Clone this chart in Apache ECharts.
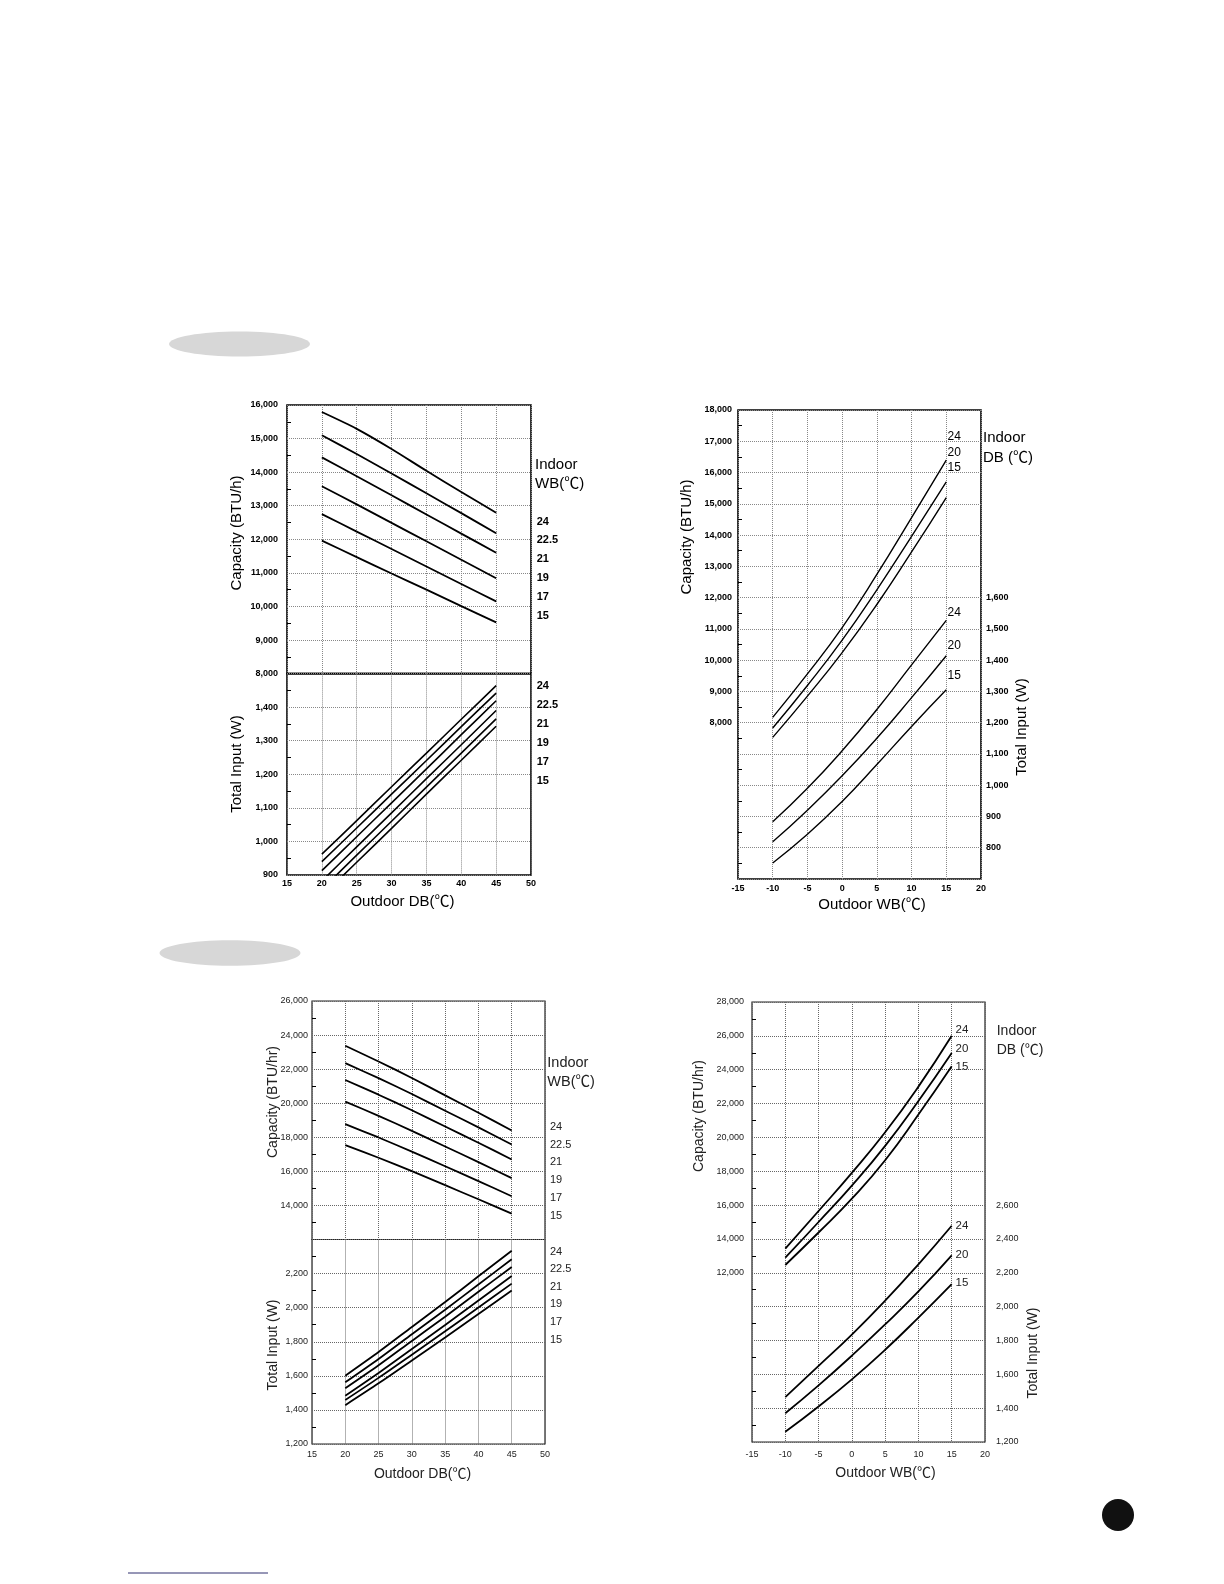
<!DOCTYPE html>
<html>
<head>
<meta charset="utf-8">
<title>Capacity and Total Input curves</title>
<script src="https://cdn.jsdelivr.net/npm/echarts@6/dist/echarts.min.js"></script>
<style>
  html, body { margin: 0; padding: 0; background: #fff; }
  #chart { width: 1224px; height: 1584px; }
</style>
</head>
<body>
<div id="chart"></div>
<script>
// ---------------- data ----------------
const xOutdoorDB = [20, 25, 30, 35, 40, 45];
const xOutdoorWB = [-10, -5, 0, 5, 10, 15];
const indoorWBLevels = ['24', '22.5', '21', '19', '17', '15'];
const indoorDBLevels = ['24', '20', '15'];

const dbTicks = [15, 20, 25, 30, 35, 40, 45, 50];
const wbTicks = [-15, -10, -5, 0, 5, 10, 15, 20];

// Chart 1 : cooling (upper left) – capacity BTU/h
const coolA_cap_24  = [15790, 15290, 14690, 14040, 13410, 12790];
const coolA_cap_225 = [15100, 14540, 13960, 13370, 12780, 12180];
const coolA_cap_21  = [14440, 13880, 13310, 12740, 12170, 11600];
const coolA_cap_19  = [13580, 13040, 12490, 11940, 11390, 10840];
const coolA_cap_17  = [12750, 12230, 11710, 11190, 10670, 10150];
const coolA_cap_15  = [11960, 11470, 10980, 10500, 10010, 9525];
// Chart 1 : cooling – total input W
const coolA_in_24  = [962, 1062, 1163, 1263, 1364, 1464];
const coolA_in_225 = [940, 1040, 1141, 1241, 1342, 1442];
const coolA_in_21  = [913, 1014, 1115, 1216, 1318, 1419];
const coolA_in_19  = [882, 984, 1085, 1187, 1288, 1390];
const coolA_in_17  = [857, 959, 1060, 1162, 1263, 1365];
const coolA_in_15  = [837, 938, 1039, 1141, 1242, 1343];

// Chart 2 : heating (upper right)
const heatA_cap_24 = [8170, 9560, 11040, 12740, 14560, 16400];
const heatA_cap_20 = [7830, 9190, 10640, 12250, 13960, 15700];
const heatA_cap_15 = [7530, 8850, 10240, 11780, 13460, 15200];
const heatA_in_24  = [883, 990, 1110, 1242, 1385, 1527];
const heatA_in_20  = [819, 920, 1030, 1150, 1280, 1414];
const heatA_in_15  = [751, 843, 948, 1066, 1188, 1305];

// Chart 3 : cooling (lower left)
const coolB_cap_24  = [23370, 22450, 21480, 20460, 19440, 18400];
const coolB_cap_225 = [22350, 21470, 20540, 19560, 18580, 17580];
const coolB_cap_21  = [21360, 20500, 19590, 18630, 17680, 16700];
const coolB_cap_19  = [20090, 19260, 18380, 17460, 16540, 15600];
const coolB_cap_17  = [18770, 17990, 17160, 16300, 15430, 14540];
const coolB_cap_15  = [17540, 16800, 16010, 15190, 14360, 13520];
const coolB_in_24  = [1601, 1740, 1887, 2033, 2184, 2334];
const coolB_in_225 = [1562, 1699, 1844, 1988, 2136, 2284];
const coolB_in_21  = [1527, 1662, 1805, 1947, 2093, 2239];
const coolB_in_19  = [1483, 1617, 1757, 1898, 2042, 2186];
const coolB_in_17  = [1458, 1588, 1724, 1861, 2001, 2141];
const coolB_in_15  = [1428, 1556, 1690, 1825, 1963, 2101];

// Chart 4 : heating (lower right)
const heatB_cap_24 = [13430, 15650, 17900, 20300, 23000, 26000];
const heatB_cap_20 = [12890, 15000, 17150, 19500, 22150, 24985];
const heatB_cap_15 = [12460, 14380, 16380, 18650, 21350, 24200];
const heatB_in_24  = [1465, 1650, 1835, 2035, 2250, 2478];
const heatB_in_20  = [1370, 1535, 1710, 1895, 2090, 2303];
const heatB_in_15  = [1260, 1410, 1570, 1745, 1935, 2133];

// ---------------- helpers ----------------
const FONT = '"Liberation Sans", Arial, "Noto Sans CJK SC", sans-serif';
const fmt = v => Number(v).toLocaleString('en-US');
const pts = (xs, ys) => xs.map((x, i) => [x, ys[i]]);

function lineSeries(name, xi, yi, xs, ys, width, smooth) {
  return {
    type: 'line', name: name, xAxisIndex: xi, yAxisIndex: yi,
    data: pts(xs, ys), symbol: 'none', showSymbol: false,
    smooth: smooth, clip: true, silent: true, animation: false,
    lineStyle: { color: '#000', width: width }
  };
}

function xAx(grid, ticks, showLabels, bold, margin, color, gridColor) {
  return {
    type: 'value', gridIndex: grid,
    min: ticks[0], max: ticks[ticks.length - 1], interval: 5,
    axisLine: { show: false, onZero: false }, axisTick: { show: false },
    splitLine: { show: true, lineStyle: { type: 'dotted', color: gridColor, width: 1 } },
    axisLabel: {
      show: showLabels, margin: margin, color: color,
      fontFamily: FONT, fontSize: 9, fontWeight: bold ? 'bold' : 'normal',
      formatter: v => String(v)
    }
  };
}

function yAx(grid, min, max, interval, opts) {
  return {
    type: 'value', gridIndex: grid, position: opts.position || 'left',
    min: min, max: max, interval: interval,
    axisLine: { show: false, onZero: false },
    axisTick: { show: false, inside: true },
    minorTick: { show: !!opts.minor, splitNumber: 2, length: 4, lineStyle: { color: '#000', width: 1 } },
    splitLine: { show: opts.split !== false, lineStyle: { type: 'dotted', color: opts.gridColor, width: 1 } },
    axisLabel: {
      margin: opts.margin, color: opts.color, fontFamily: FONT, fontSize: 9,
      fontWeight: opts.bold ? 'bold' : 'normal',
      formatter: v => (v >= opts.lo && v <= opts.hi) ? fmt(v) : ''
    }
  };
}

function txt(text, x, y, size, opts) {
  opts = opts || {};
  return {
    type: 'text', x: x, y: y, rotation: opts.rot || 0, silent: true, z: 10,
    style: {
      text: text, fill: opts.color || '#000',
      font: (opts.bold ? 'bold ' : '') + size + 'px ' + FONT,
      textAlign: opts.align || 'left', textVerticalAlign: 'middle',
      align: opts.align || 'left', verticalAlign: 'middle'
    }
  };
}

// ---------------- layout ----------------
const grids = [
  { left: 287, top: 405,    width: 244, height: 268.6, show: true, borderColor: '#000', borderWidth: 1.6, backgroundColor: 'transparent' },
  { left: 287, top: 673.6,  width: 244, height: 201.4, show: true, borderColor: '#000', borderWidth: 1.6, backgroundColor: 'transparent' },
  { left: 738, top: 410,    width: 243, height: 469,   show: true, borderColor: '#000', borderWidth: 1.6, backgroundColor: 'transparent' },
  { left: 312, top: 1001,   width: 233, height: 238.5, show: true, borderColor: '#222', borderWidth: 1.2, backgroundColor: 'transparent' },
  { left: 312, top: 1239.5, width: 233, height: 204.5, show: true, borderColor: '#222', borderWidth: 1.2, backgroundColor: 'transparent' },
  { left: 752, top: 1002,   width: 233, height: 440,   show: true, borderColor: '#222', borderWidth: 1.2, backgroundColor: 'transparent' }
];

const topGrid = '#888';
const botGrid = '#666';

const xAxes = [
  xAx(0, dbTicks, false, true, 4, '#000', topGrid),
  xAx(1, dbTicks, true, true, 4, '#000', topGrid),
  xAx(2, wbTicks, true, true, 5, '#000', topGrid),
  xAx(3, dbTicks, false, false, 6, '#222', botGrid),
  xAx(4, dbTicks, true, false, 6, '#222', botGrid),
  xAx(5, wbTicks, true, false, 8, '#222', botGrid)
];

const yAxes = [
  yAx(0, 8000, 16000, 1000, { minor: true, margin: 9, color: '#000', bold: true, gridColor: topGrid, lo: 8000, hi: 16000 }),
  yAx(1, 900, 1500, 100,    { minor: true, margin: 9, color: '#000', bold: true, gridColor: topGrid, lo: 900, hi: 1400 }),
  yAx(2, 3000, 18000, 1000, { minor: true, margin: 6, color: '#000', bold: true, gridColor: topGrid, lo: 8000, hi: 18000 }),
  yAx(2, 700, 2200, 100,    { position: 'right', split: false, margin: 5, color: '#000', bold: true, gridColor: topGrid, lo: 800, hi: 1600 }),
  yAx(3, 12000, 26000, 2000,{ minor: true, margin: 4, color: '#222', bold: false, gridColor: botGrid, lo: 14000, hi: 26000 }),
  yAx(4, 1200, 2400, 200,   { minor: true, margin: 4, color: '#222', bold: false, gridColor: botGrid, lo: 1200, hi: 2200 }),
  yAx(5, 2000, 28000, 2000, { minor: true, margin: 8, color: '#222', bold: false, gridColor: botGrid, lo: 12000, hi: 28000 }),
  yAx(5, 1200, 3800, 200,   { position: 'right', split: false, margin: 11, color: '#222', bold: false, gridColor: botGrid, lo: 1200, hi: 2600 })
];

const S1 = 0.25, S2 = 0.5;
const series = [
  // chart 1
  lineSeries('24', 0, 0, xOutdoorDB, coolA_cap_24, 1.8, S1),
  lineSeries('22.5', 0, 0, xOutdoorDB, coolA_cap_225, 1.8, S1),
  lineSeries('21', 0, 0, xOutdoorDB, coolA_cap_21, 1.8, S1),
  lineSeries('19', 0, 0, xOutdoorDB, coolA_cap_19, 1.8, S1),
  lineSeries('17', 0, 0, xOutdoorDB, coolA_cap_17, 1.8, S1),
  lineSeries('15', 0, 0, xOutdoorDB, coolA_cap_15, 1.8, S1),
  lineSeries('24', 1, 1, xOutdoorDB, coolA_in_24, 1.6, S1),
  lineSeries('22.5', 1, 1, xOutdoorDB, coolA_in_225, 1.6, S1),
  lineSeries('21', 1, 1, xOutdoorDB, coolA_in_21, 1.6, S1),
  lineSeries('19', 1, 1, xOutdoorDB, coolA_in_19, 1.6, S1),
  lineSeries('17', 1, 1, xOutdoorDB, coolA_in_17, 1.6, S1),
  lineSeries('15', 1, 1, xOutdoorDB, coolA_in_15, 1.6, S1),
  // chart 2
  lineSeries('24', 2, 2, xOutdoorWB, heatA_cap_24, 1.4, S2),
  lineSeries('20', 2, 2, xOutdoorWB, heatA_cap_20, 1.4, S2),
  lineSeries('15', 2, 2, xOutdoorWB, heatA_cap_15, 1.4, S2),
  lineSeries('24', 2, 3, xOutdoorWB, heatA_in_24, 1.4, S2),
  lineSeries('20', 2, 3, xOutdoorWB, heatA_in_20, 1.4, S2),
  lineSeries('15', 2, 3, xOutdoorWB, heatA_in_15, 1.4, S2),
  // chart 3
  lineSeries('24', 3, 4, xOutdoorDB, coolB_cap_24, 1.8, S1),
  lineSeries('22.5', 3, 4, xOutdoorDB, coolB_cap_225, 1.8, S1),
  lineSeries('21', 3, 4, xOutdoorDB, coolB_cap_21, 1.8, S1),
  lineSeries('19', 3, 4, xOutdoorDB, coolB_cap_19, 1.8, S1),
  lineSeries('17', 3, 4, xOutdoorDB, coolB_cap_17, 1.8, S1),
  lineSeries('15', 3, 4, xOutdoorDB, coolB_cap_15, 1.8, S1),
  lineSeries('24', 4, 5, xOutdoorDB, coolB_in_24, 1.8, S1),
  lineSeries('22.5', 4, 5, xOutdoorDB, coolB_in_225, 1.8, S1),
  lineSeries('21', 4, 5, xOutdoorDB, coolB_in_21, 1.8, S1),
  lineSeries('19', 4, 5, xOutdoorDB, coolB_in_19, 1.8, S1),
  lineSeries('17', 4, 5, xOutdoorDB, coolB_in_17, 1.8, S1),
  lineSeries('15', 4, 5, xOutdoorDB, coolB_in_15, 1.8, S1),
  // chart 4
  lineSeries('24', 5, 6, xOutdoorWB, heatB_cap_24, 1.8, S2),
  lineSeries('20', 5, 6, xOutdoorWB, heatB_cap_20, 1.8, S2),
  lineSeries('15', 5, 6, xOutdoorWB, heatB_cap_15, 1.8, S2),
  lineSeries('24', 5, 7, xOutdoorWB, heatB_in_24, 1.8, S2),
  lineSeries('20', 5, 7, xOutdoorWB, heatB_in_20, 1.8, S2),
  lineSeries('15', 5, 7, xOutdoorWB, heatB_in_15, 1.8, S2)
];

// ---------------- texts & decorations ----------------
const R = Math.PI / 2;
const graphics = [
  { type: 'ellipse', shape: { cx: 239.5, cy: 344, rx: 70.5, ry: 12.5 }, style: { fill: '#d7d7d7' }, silent: true },
  { type: 'ellipse', shape: { cx: 230, cy: 953, rx: 70.5, ry: 12.8 }, style: { fill: '#d7d7d7' }, silent: true },
  { type: 'circle', shape: { cx: 1118, cy: 1515, r: 16 }, style: { fill: '#111' }, silent: true },
  { type: 'line', shape: { x1: 128, y1: 1573, x2: 268, y2: 1573 }, style: { stroke: '#2e2e6e', lineWidth: 1 }, silent: true },

  // chart 1
  txt('Capacity (BTU/h)', 237, 533, 15, { rot: R, align: 'center' }),
  txt('Total Input (W)', 237, 764, 15, { rot: R, align: 'center' }),
  txt('Outdoor DB(℃)', 402.5, 902, 15, { align: 'center' }),
  txt('Indoor', 535, 465, 15),
  txt('WB(℃)', 535, 484, 15),

  // chart 2
  txt('Capacity (BTU/h)', 687, 537, 15, { rot: R, align: 'center' }),
  txt('Total Input (W)', 1021.7, 727, 15, { rot: R, align: 'center' }),
  txt('Outdoor WB(℃)', 872, 905, 15, { align: 'center' }),
  txt('Indoor', 983, 438, 15),
  txt('DB (℃)', 983, 458, 15),

  // chart 3
  txt('Capacity (BTU/hr)', 273.5, 1102, 14, { rot: R, align: 'center', color: '#222' }),
  txt('Total Input (W)', 273, 1345, 14, { rot: R, align: 'center', color: '#222' }),
  txt('Outdoor DB(℃)', 422.5, 1474, 14, { align: 'center', color: '#222' }),
  txt('Indoor', 547.3, 1063.3, 14.5, { color: '#222' }),
  txt('WB(℃)', 547.3, 1081.7, 14.5, { color: '#222' }),

  // chart 4
  txt('Capacity (BTU/hr)', 699, 1116, 14, { rot: R, align: 'center', color: '#222' }),
  txt('Total Input (W)', 1033, 1353, 14, { rot: R, align: 'center', color: '#222' }),
  txt('Outdoor WB(℃)', 885.5, 1473, 14, { align: 'center', color: '#222' }),
  txt('Indoor', 996.7, 1030.7, 14, { color: '#222' }),
  txt('DB (℃)', 996.7, 1050, 14, { color: '#222' })
];

// series level labels (Indoor WB / DB values)
const c1CapY = [521.7, 540, 559, 578, 597, 615.7];
const c1InY  = [686, 704.7, 723.7, 742.7, 761.7, 780.7];
const c3CapY = [1126.7, 1144.7, 1162, 1180, 1198, 1216];
const c3InY  = [1251.7, 1269, 1287, 1304, 1322, 1340];
indoorWBLevels.forEach((lv, i) => {
  graphics.push(txt(lv, 536.7, c1CapY[i], 11, { bold: true }));
  graphics.push(txt(lv, 536.7, c1InY[i], 11, { bold: true }));
  graphics.push(txt(lv, 550, c3CapY[i], 11, { color: '#222' }));
  graphics.push(txt(lv, 550, c3InY[i], 11, { color: '#222' }));
});
const c2CapY = [436.7, 452.3, 467.7];
const c2InY  = [612.3, 646, 675.7];
const c4CapY = [1030, 1049.3, 1067.3];
const c4InY  = [1226, 1255, 1283.3];
indoorDBLevels.forEach((lv, i) => {
  graphics.push(txt(lv, 947.5, c2CapY[i], 12));
  graphics.push(txt(lv, 947.5, c2InY[i], 12));
  graphics.push(txt(lv, 955.5, c4CapY[i], 11.5, { color: '#222' }));
  graphics.push(txt(lv, 955.5, c4InY[i], 11.5, { color: '#222' }));
});

const chart = echarts.init(document.getElementById('chart'), null, { renderer: 'canvas' });
chart.setOption({
  backgroundColor: '#fff',
  animation: false,
  grid: grids,
  xAxis: xAxes,
  yAxis: yAxes,
  series: series,
  graphic: { elements: graphics }
});
</script>
</body>
</html>
